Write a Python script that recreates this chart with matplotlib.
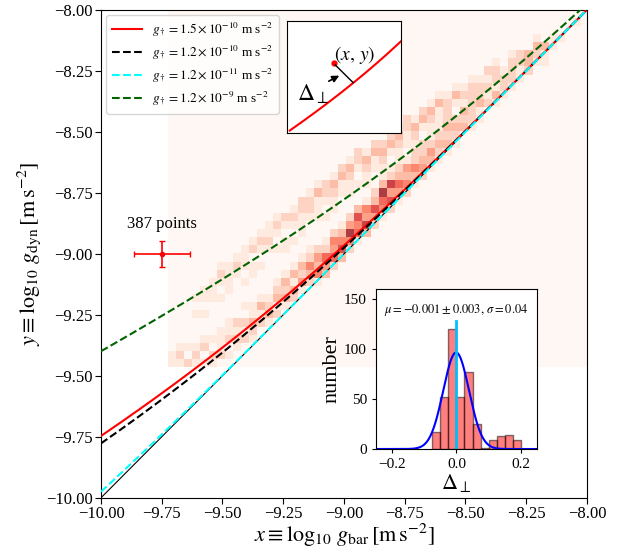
import numpy as np
import matplotlib
matplotlib.use('Agg')
import matplotlib.pyplot as plt
from matplotlib.ticker import FuncFormatter

plt.rcParams['font.family'] = ['Liberation Serif', 'DejaVu Serif']
plt.rcParams['mathtext.fontset'] = 'stix'

# ---------------- data ----------------
# RAR model curves: acceleration scale g_dagger [m s^-2]
g_dagger = [1.5e-10, 1.2e-10, 1.2e-11, 1.2e-9]
g_labels = [r'$g_\dagger=1.5\times10^{-10}$ m s$^{-2}$',
            r'$g_\dagger=1.2\times10^{-10}$ m s$^{-2}$',
            r'$g_\dagger=1.2\times10^{-11}$ m s$^{-2}$',
            r'$g_\dagger=1.2\times10^{-9}$ m s$^{-2}$']
g_colors = ['red', 'black', 'cyan', 'darkgreen']
g_styles = ['-', '--', '--', '--']

# 2D histogram grid (log10 g_bar, log10 g_dyn)
heat_x0 = -9.724
heat_y0 = -9.465
heat_bin = 1.0 / 30
n_xbins = 52
n_ybins = 44

# main band: per x-column, first y-row and counts upward
main_start = [0, 0, 0, 0, 0, 0, 0, 1, 2, 3, 3, 4, 5, 6, 7, 8, 9, 10, 10, 11,
              12, 13, 14, 15, 16, 17, 18, 19, 20, 21, 22, 23, 24, 25, 26, 27,
              28, 29, 30, 31, 32, 33, 34, 35, 36, 37, 38, 39, 40, 41, 42, 43]
main_counts = [[1, 1], [1, 2, 1], [2, 0, 1], [1, 2, 1], [1, 0, 2, 1],
               [1, 2, 0, 1], [0, 2, 1, 1, 1], [1, 0, 2, 1, 1], [1, 2, 1, 2, 0],
               [2, 1, 2, 0, 1], [1, 2, 3, 1, 1], [0, 2, 1, 3, 1], [1, 3, 2, 1, 0],
               [2, 1, 3, 2, 1], [1, 3, 2, 3, 1], [2, 3, 1, 3, 1], [1, 4, 2, 3, 1],
               [2, 3, 5, 2, 1], [1, 5, 3, 4, 2], [3, 4, 6, 2, 1], [2, 6, 4, 5, 2],
               [3, 7, 5, 3, 1], [2, 5, 9, 4, 2], [1, 6, 5, 7, 3], [3, 8, 4, 5, 1],
               [2, 4, 7, 3, 2], [1, 5, 6, 9, 3], [2, 7, 4, 8, 2], [1, 4, 6, 3, 2],
               [2, 5, 3, 4, 1], [1, 3, 5, 2, 1], [2, 4, 3, 2, 1], [1, 3, 4, 2],
               [1, 2, 3, 2, 1], [1, 3, 2, 2, 1], [1, 2, 3, 1], [0, 3, 2, 2],
               [1, 2, 2, 1], [1, 1, 2, 1], [0, 2, 1, 1], [1, 2, 1, 1], [1, 1, 1],
               [1, 2, 1], [0, 1, 1], [1, 2, 1], [1, 1], [0, 1], [1, 1], [1], [0],
               [1], [0]]

# upper band: per x-column, first y-row and counts upward
upper_start = [0, 0, 0, 6, 6, 7, 8, 9, 10, 10, 11, 12, 13, 14, 14, 15, 16, 17,
               18, 18, 19, 20, 21, 22, 22, 23, 23, 24, 25, 26, 26, 27, 28, 29,
               29, 30, 31, 31, 32, 33, 33, 34, 35, 35, 36, 37, 37, 0, 0, 0, 0, 0]
upper_counts = [[], [], [], [1, 0, 1], [1, 0, 1, 1], [0, 1, 1, 1],
                [1, 0, 1, 2, 1], [1, 1, 1, 1], [0, 1, 2, 1], [1, 0, 1, 1, 1],
                [1, 1, 0, 2, 1], [1, 0, 1, 2, 1], [0, 1, 2, 1, 1], [1, 0, 1, 2, 1],
                [1, 1, 0, 1, 2], [1, 0, 1, 2, 1], [1, 1, 1, 2, 2], [0, 1, 2, 2, 1],
                [1, 1, 1, 3, 1], [1, 0, 1, 2, 2], [1, 1, 2, 3, 1], [0, 1, 1, 3, 2],
                [1, 1, 2, 3, 1], [1, 0, 1, 2, 2], [1, 1, 2, 3, 1], [0, 1, 1, 3, 2],
                [1, 1, 2, 3, 2], [1, 0, 1, 3, 2], [1, 1, 2, 3, 1], [0, 1, 1, 2, 2],
                [1, 1, 2, 3, 1], [1, 0, 1, 3, 2], [1, 1, 2, 3, 1], [0, 1, 1, 3, 1],
                [1, 1, 2, 2, 1], [1, 0, 1, 3, 1], [1, 1, 2, 1], [0, 1, 2, 2, 1],
                [1, 1, 2, 1], [0, 1, 1, 2], [1, 0, 1, 2, 1], [1, 1, 1],
                [0, 1, 2, 1], [1, 0, 1, 2], [1, 1, 2], [0, 1, 3, 1], [1, 1, 2],
                [], [], [], [], []]

# typical error bar
n_points = 387
point_x, point_y = -9.75, -9.0
point_xerr, point_yerr = 0.115, 0.053

# residual histogram
hist_edges = [-0.075, -0.05, -0.025, 0.0, 0.025, 0.05, 0.075, 0.1, 0.125,
              0.15, 0.175, 0.2]
hist_counts = [17, 52, 120, 52, 77, 25, 1, 9, 13, 14, 9]
mu, mu_err, sigma = -0.001, 0.003, 0.04

main_ticks = [-10.0, -9.75, -9.5, -9.25, -9.0, -8.75, -8.5, -8.25, -8.0]
hist_xticks = [-0.2, 0.0, 0.2]
hist_yticks = [0, 50, 100, 150]


def rar(x, gd):
    gb = 10.0 ** np.asarray(x)
    return np.log10(gb / (1.0 - np.exp(-np.sqrt(gb / gd))))


def minus_fmt(fmt):
    return FuncFormatter(lambda v, p: (fmt % v).replace('-', '\u2212'))


# ---------------- figure ----------------
fig = plt.figure(figsize=(6.19, 5.5), dpi=100)
ax = fig.add_axes([0.1632, 0.095, 0.785, 0.887])

xe = heat_x0 + np.arange(n_xbins + 1) * heat_bin
ye = heat_y0 + np.arange(n_ybins + 1) * heat_bin
hx, hy, hw = [], [], []
for ix in range(n_xbins):
    for start, counts in ((main_start[ix], main_counts[ix]),
                          (upper_start[ix], upper_counts[ix])):
        for k, c in enumerate(counts):
            iy = start + k
            if c > 0 and 0 <= iy < n_ybins:
                hx.append(0.5 * (xe[ix] + xe[ix + 1]))
                hy.append(0.5 * (ye[iy] + ye[iy + 1]))
                hw.append(c)
ax.hist2d(hx, hy, bins=[xe, ye], weights=hw, cmap='Reds', vmin=0, vmax=10,
          alpha=0.8, zorder=0)

xx = np.linspace(-10, -8, 500)
ax.plot([-10, -8], [-10, -8], color='k', lw=0.8, zorder=2)
for gd, lab, col, ls in zip(g_dagger, g_labels, g_colors, g_styles):
    ax.plot(xx, rar(xx, gd), color=col, ls=ls, lw=1.5, label=lab, zorder=3)

ax.errorbar([point_x], [point_y], xerr=[point_xerr], yerr=[point_yerr],
            fmt='o', color='red', ms=3, lw=1.2, capsize=2, zorder=4)
ax.text(point_x, point_y + 0.105, '%d points' % n_points, ha='center',
        va='baseline', fontsize=12)

ax.set_xlim(-10, -8)
ax.set_ylim(-10, -8)
ax.set_xticks(main_ticks)
ax.set_yticks(main_ticks)
ax.xaxis.set_major_formatter(minus_fmt('%.2f'))
ax.yaxis.set_major_formatter(minus_fmt('%.2f'))
ax.tick_params(labelsize=12, direction='out', length=4, pad=2)
ax.set_xlabel(r'$x\equiv\log_{10}\,g_{\rm bar}\,[{\rm m\,s^{-2}}]$', fontsize=16,
              labelpad=0)
ax.set_ylabel(r'$y\equiv\log_{10}\,g_{\rm dyn}\,[{\rm m\,s^{-2}}]$', fontsize=16,
              labelpad=2)
ax.legend(loc='upper left', fontsize=9.5, handlelength=2.3, labelspacing=0.35,
          borderaxespad=0.4)

# schematic inset
axi = fig.add_axes([0.4637, 0.758, 0.184, 0.2036])
xs_i = np.linspace(-10.571, -9.4, 200)
axi.plot(xs_i, rar(xs_i, g_dagger[0]), color='red', lw=1.5)
axi.set_xlim(-10.6, -9.4)
axi.set_ylim(-10.132, -9.123)
axi.set_xticks([])
axi.set_yticks([])
axi.plot([0.414], [0.624], 'o', color='red', ms=3.5, transform=axi.transAxes)
axi.plot([0.423, 0.58], [0.609, 0.451], color='k', lw=1,
         transform=axi.transAxes)
axi.annotate('', xy=(0.48, 0.525), xytext=(0.345, 0.452),
             xycoords='axes fraction', textcoords='axes fraction',
             arrowprops=dict(arrowstyle='-|>', color='k', lw=1.2,
                             mutation_scale=10))
axi.text(0.59, 0.70, r'$(x,\,y)$', transform=axi.transAxes, ha='center',
         va='center', fontsize=14)
axi.text(0.09, 0.35, r'$\Delta_\perp$', transform=axi.transAxes, ha='left',
         va='center', fontsize=17)

# histogram inset
axh = fig.add_axes([0.6074, 0.1836, 0.260, 0.291])
axh.hist(hist_edges[:-1], bins=hist_edges, weights=hist_counts, color='red',
         alpha=0.5, edgecolor='k', lw=1)
binw = hist_edges[1] - hist_edges[0]
amp = n_points * binw / (sigma * np.sqrt(2 * np.pi))
gx = np.linspace(-0.25, 0.25, 400)
axh.plot(gx, amp * np.exp(-0.5 * ((gx - mu) / sigma) ** 2), color='blue',
         lw=1.5)
axh.axvline(0.0, ymax=0.8, color='deepskyblue', lw=2)
axh.set_xlim(-0.25, 0.25)
axh.set_ylim(0, 160)
axh.set_xticks(hist_xticks)
axh.set_yticks(hist_yticks)
axh.xaxis.set_major_formatter(minus_fmt('%.1f'))
axh.tick_params(labelsize=11, direction='out', length=3)
axh.text(0.5, 0.87, r'$\mu=-0.001\pm0.003,\,\sigma=0.04$',
         transform=axh.transAxes, ha='center', va='center', fontsize=9)
axh.set_xlabel(r'$\Delta_\perp$', fontsize=16, labelpad=1)
axh.set_ylabel('number', fontsize=16, labelpad=2)

fig.savefig('out.png', dpi=100)
